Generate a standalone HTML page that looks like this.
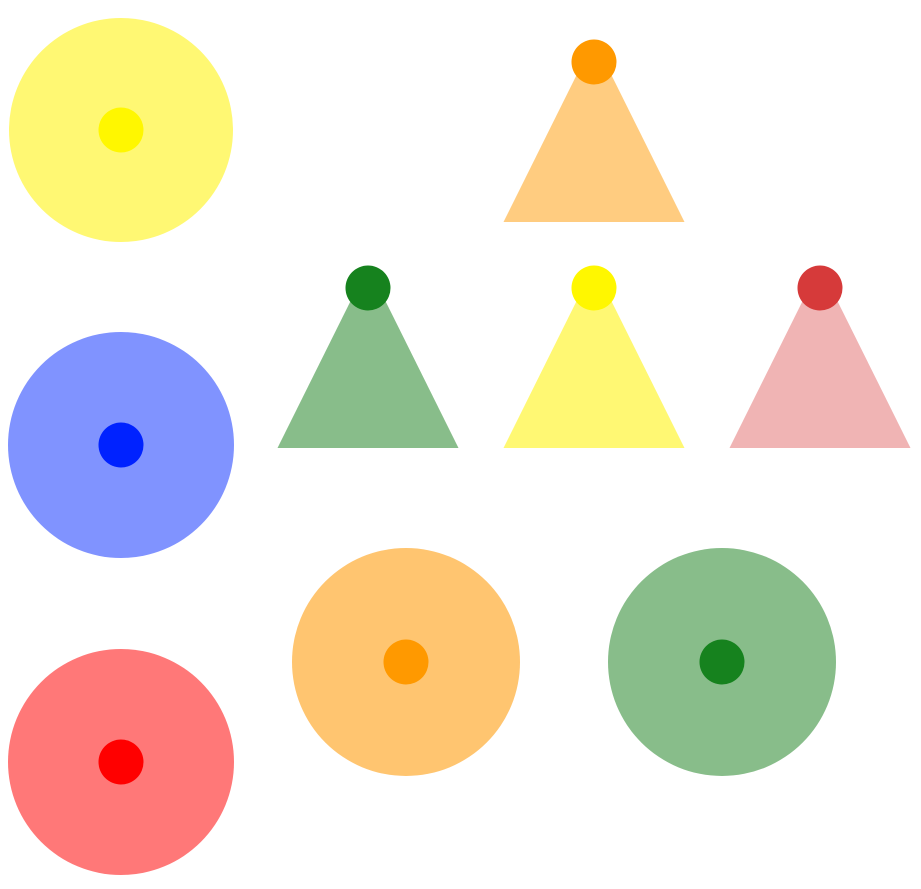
<!DOCTYPE html>
<html>
<head>
<meta charset="utf-8">
<style>
html,body{margin:0;padding:0;background:#fff;width:921px;height:889px;overflow:hidden;}
svg{display:block;}
</style>
</head>
<body>
<svg id="chart" width="921" height="889" viewBox="0 0 921 889" xmlns="http://www.w3.org/2000/svg"></svg>
<script>
// circle markers: center x, center y, outer fill, inner dot fill
const circleNames = ['yellow-circle','blue-circle','red-circle','orange-circle','green-circle'];
const circleX = [121,121,121,406,722];
const circleY = [130,445,762,662,662];
const circleR = [112,113,113,114,114];
const circleOuter = ['#fff873','#8093ff','#ff7878','#ffc570','#88bd8a'];
const circleInner = ['#fff700','#0022ff','#ff0000','#ff9900','#16821e'];
// triangle markers: dot x, dot y, base y, half width
const triNames = ['orange-triangle','green-triangle','yellow-triangle','pink-triangle'];
const triX = [594,368,594,820];
const triY = [62,288,288,288];
const triBase = [222,448,448,448];
const triHalf = [90.5,90.5,90.5,90.5];
const triFill = ['#ffcc80','#88bd8a','#fff873','#f0b4b4'];
const triDot = ['#ff9900','#16821e','#fff700','#d63a3a'];

const svg = document.getElementById('chart');
const NS = 'http://www.w3.org/2000/svg';
function mk(tag, attrs){const e=document.createElementNS(NS,tag);for(const k in attrs)e.setAttribute(k,attrs[k]);return e;}

for(let i=0;i<circleX.length;i++){
  const g=mk('g',{});
  
  
  const c=mk('circle',{cx:circleX[i],cy:circleY[i],r:circleR[i],fill:circleOuter[i]});
  
  
  const d=mk('circle',{cx:circleX[i],cy:circleY[i],r:22.5,fill:circleInner[i]});
  
  
  g.appendChild(c);g.appendChild(d);svg.appendChild(g);
}
for(let i=0;i<triX.length;i++){
  const g=mk('g',{});
  
  
  const apex=triY[i]-22;
  const pts=`${triX[i]},${apex} ${triX[i]-triHalf[i]},${triBase[i]} ${triX[i]+triHalf[i]},${triBase[i]}`;
  const p=mk('polygon',{points:pts,fill:triFill[i]});
  
  
  const d=mk('circle',{cx:triX[i],cy:triY[i],r:22.5,fill:triDot[i]});
  
  
  g.appendChild(p);g.appendChild(d);svg.appendChild(g);
}
</script>
</body>
</html>
